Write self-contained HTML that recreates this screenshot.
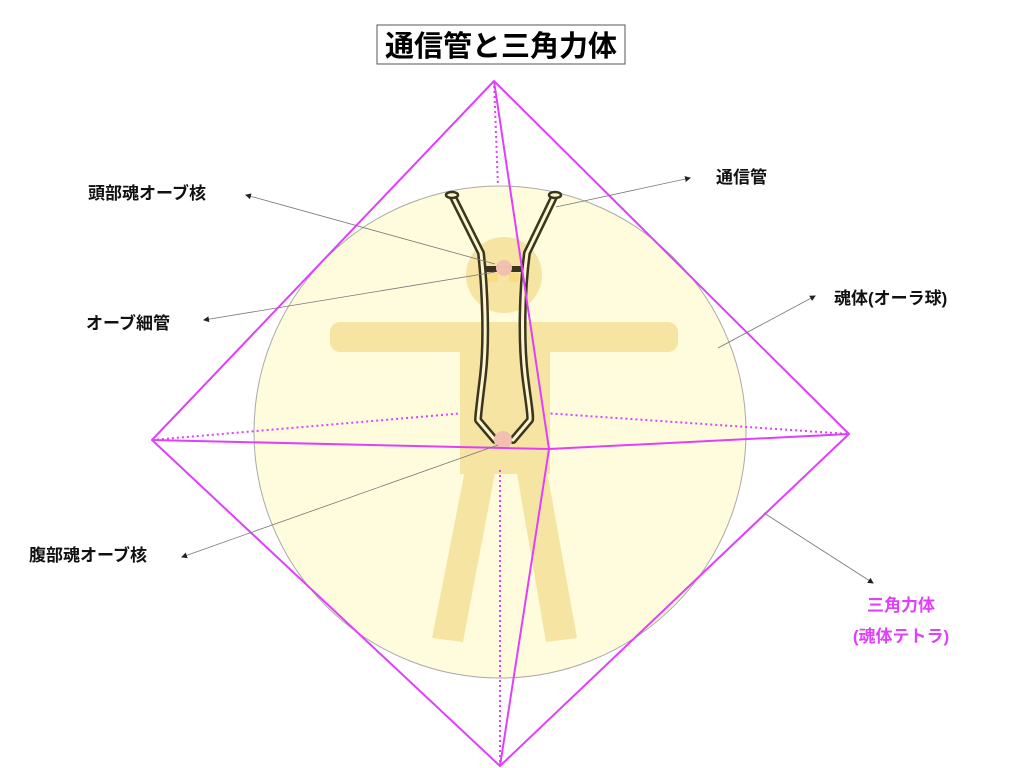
<!DOCTYPE html>
<html><head><meta charset="utf-8"><style>
html,body{margin:0;padding:0;background:#fff;width:1024px;height:768px;overflow:hidden}
svg{display:block}
text{font-family:"Liberation Sans","Noto Sans CJK JP",sans-serif;font-weight:bold}
</style></head><body>
<svg width="1024" height="768" viewBox="0 0 1024 768">
<defs><marker id="a" markerWidth="6" markerHeight="6" refX="5" refY="3" orient="auto" markerUnits="userSpaceOnUse"><path d="M0,0 L6,3 L0,6z" fill="#222"/></marker></defs>
<rect x="377" y="25" width="248" height="39" fill="#fff" stroke="#555" stroke-width="1"/>
<text x="501" y="56" font-size="29" text-anchor="middle" fill="#000">通信管と三角力体</text>
<g stroke="#e040fb" stroke-width="2" fill="none" stroke-dasharray="2,3">
<path d="M494,81 L498,186"/>
</g>
<circle cx="500" cy="432" r="246" fill="#fefcdc" stroke="#aaa" stroke-width="1"/>
<g stroke="#e040fb" stroke-width="2" fill="none" stroke-dasharray="2,3">
<path d="M152,440 L500,410 L849,434"/>
<path d="M500,470 L500,766"/>
</g>
<g fill="#f6e4a2">
<circle cx="504" cy="275" r="38"/>
<rect x="330" y="322" width="348" height="30" rx="10"/>
<rect x="460" y="322" width="90" height="152"/>
<path d="M467,460 L497,462 L463,642 L432,638 Z"/>
<path d="M515,462 L545,460 L577,638 L546,642 Z"/>
</g>
<path d="M500,470 L500,766" stroke="#e040fb" stroke-width="2" stroke-dasharray="2,3"/>
<rect x="488" y="273" width="10" height="9" fill="#f9dc80"/>
<rect x="509" y="273" width="10" height="9" fill="#f9dc80"/>
<g fill="none" stroke="#3a3520" stroke-linecap="round" stroke-linejoin="round">
<path d="M452,195 L481,253 C485,290 487,340 483,375 C480,400 478,415 478,420 L495,440" stroke-width="8"/>
<path d="M555,195 L527,253 C522,290 521,340 525,375 C528,400 531,415 530,420 L513,440" stroke-width="8"/>
<path d="M452,195 L481,253 C485,290 487,340 483,375 C480,400 478,415 478,420 L495,440" stroke="#fdf6cc" stroke-width="3"/>
<path d="M555,195 L527,253 C522,290 521,340 525,375 C528,400 531,415 530,420 L513,440" stroke="#fdf6cc" stroke-width="3"/>
</g>
<ellipse cx="452" cy="195" rx="6" ry="3" fill="#fdf6cc" stroke="#3a3520" stroke-width="2.5"/>
<ellipse cx="555" cy="195" rx="6" ry="3" fill="#fdf6cc" stroke="#3a3520" stroke-width="2.5"/>
<rect x="486" y="266" width="11" height="6" fill="#3a3520"/>
<rect x="511" y="266" width="11" height="6" fill="#3a3520"/>
<circle cx="504" cy="268" r="8" fill="#f2c0b0"/>
<circle cx="503" cy="440" r="9" fill="#f2c0b0"/>
<g stroke="#e040fb" stroke-width="2" fill="none" stroke-linejoin="round">
<path d="M494,81 L152,440 L500,766 L849,434 Z"/>
<path d="M494,81 L549,449 L500,766"/>
<path d="M152,440 L549,449 L849,434"/>
</g>
<g stroke="#777" stroke-width="0.8" fill="none" marker-end="url(#a)">
<line x1="495" y1="264" x2="246" y2="195"/>
<line x1="495" y1="272" x2="204" y2="320"/>
<line x1="556" y1="207" x2="690" y2="178"/>
<line x1="718" y1="348" x2="815" y2="296"/>
<line x1="498" y1="445" x2="182" y2="557"/>
<line x1="764" y1="513" x2="873" y2="583"/>
</g>
<g font-size="17" fill="#111">
<text x="88" y="199">頭部魂オーブ核</text>
<text x="86" y="329">オーブ細管</text>
<text x="716" y="183">通信管</text>
<text x="834" y="304">魂体(オーラ球)</text>
<text x="29" y="561">腹部魂オーブ核</text>
</g>
<g font-size="17" fill="#e040fb" text-anchor="middle">
<text x="901" y="611">三角力体</text>
<text x="901" y="642">(魂体テトラ)</text>
</g>
</svg>
</body></html>
